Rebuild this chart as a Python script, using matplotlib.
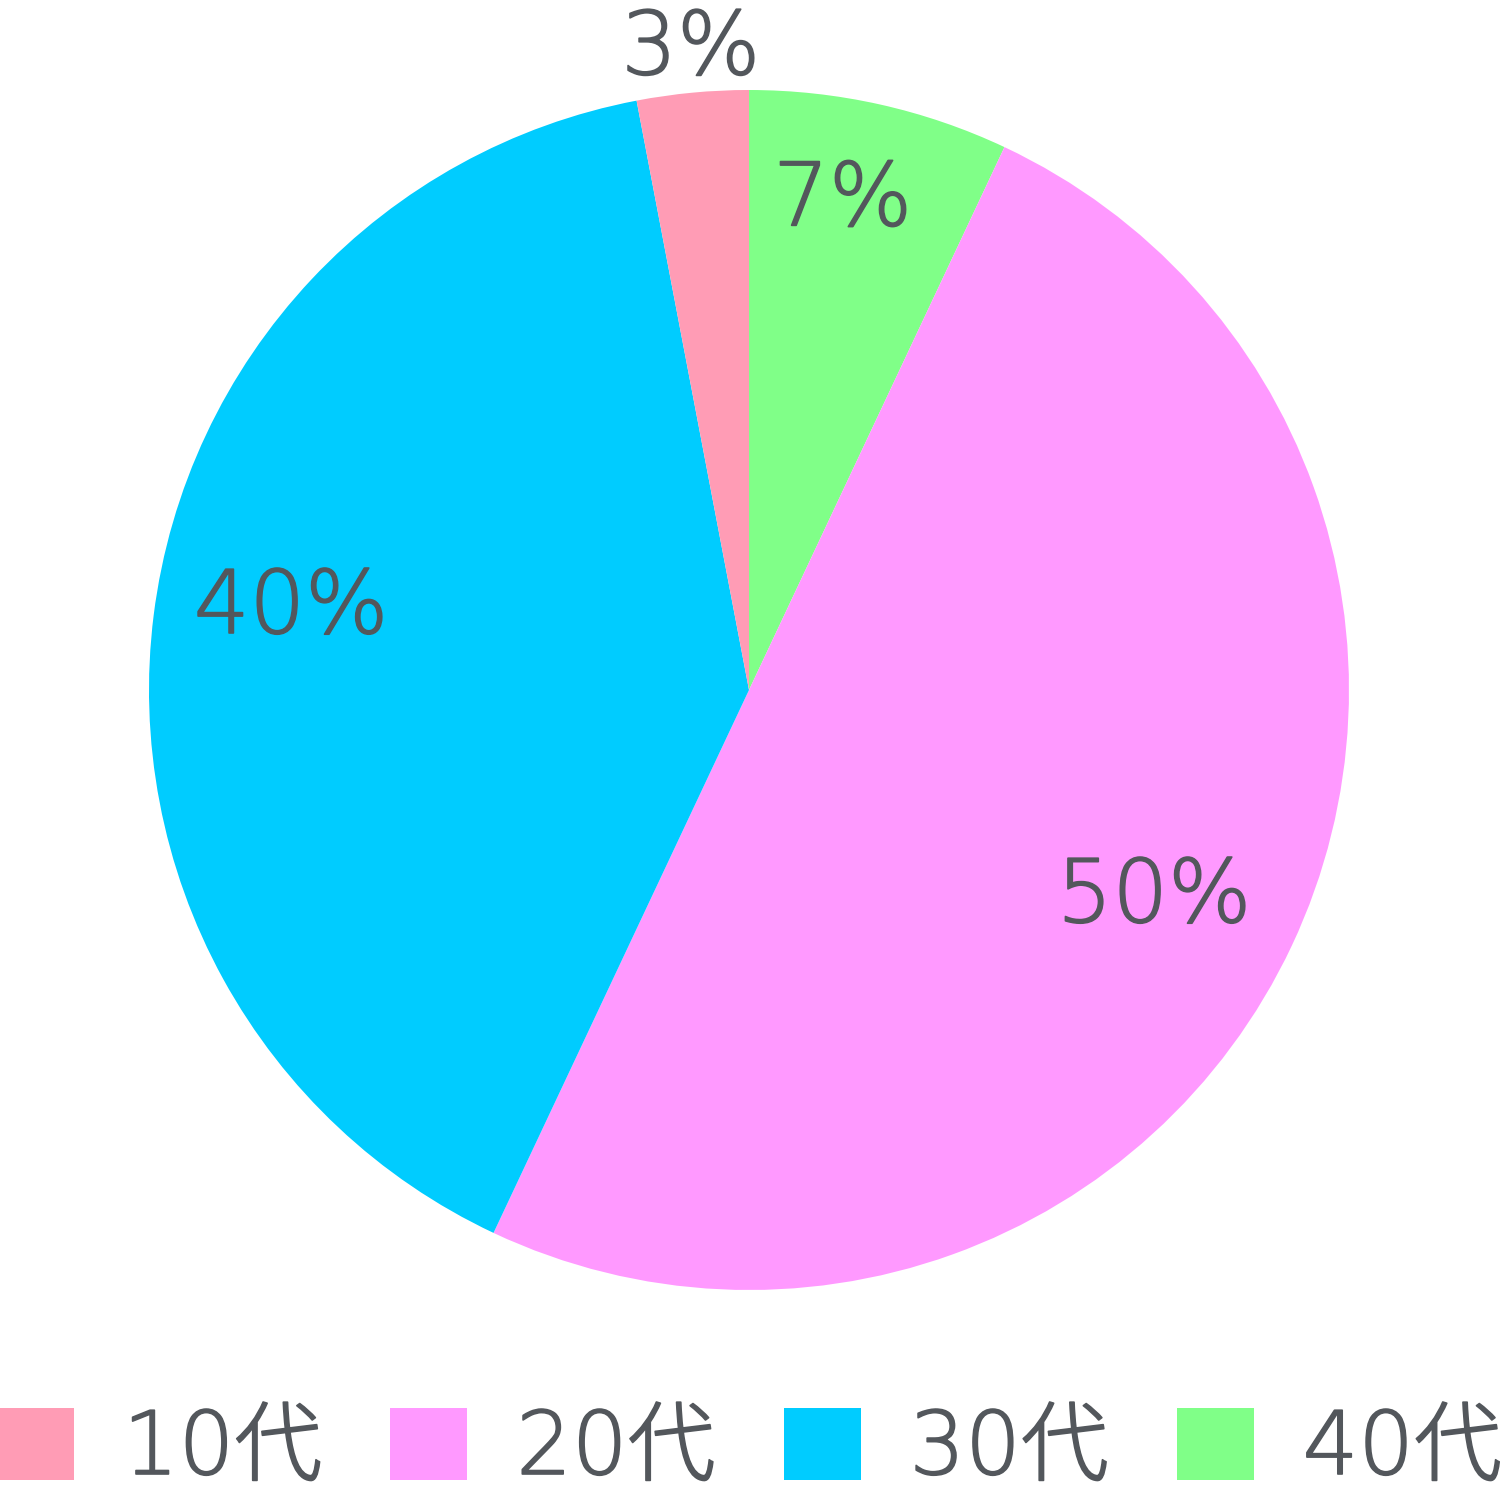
import numpy as np
import matplotlib
matplotlib.use('Agg')
import matplotlib.pyplot as plt
import matplotlib.patheffects as pe
from matplotlib.patches import Patch

plt.rcParams['font.family'] = ['DejaVu Sans', 'Noto Sans CJK JP']

# data
categories = ['10代', '20代', '30代', '40代']
shares = [3, 50, 40, 7]
colors = ['#FF9CB5', '#FF99FF', '#00CCFF', '#80FF88']
# wedges go clockwise from 12 o'clock in this order
pie_order = ['40代', '20代', '30代', '10代']
# label placement: (angle shift in degrees, fraction of radius), baseline anchored
label_pos = {'40代': (1.2, 0.79), '20代': (-4.6, 0.778),
             '30代': (0.1, 0.769), '10代': (0.0, 1.031)}

text_color = '#53575C'
thicken = [pe.withStroke(linewidth=1.2, foreground=text_color)]

fig = plt.figure(figsize=(15, 15.12), dpi=100)
ax = fig.add_axes([0, 0, 1, 1])

idx = [categories.index(c) for c in pie_order]
vals = [shares[i] for i in idx]
cols = [colors[i] for i in idx]

wedges, _ = ax.pie(vals, colors=cols, startangle=90, counterclock=False,
                   wedgeprops=dict(linewidth=0))

for w, c, v in zip(wedges, pie_order, vals):
    shift, r = label_pos[c]
    ang = np.deg2rad((w.theta1 + w.theta2) / 2 + shift)
    ax.text(r * np.cos(ang), r * np.sin(ang), '%d%%' % v,
            ha='center', va='baseline', fontsize=63,
            fontweight='light', color=text_color, path_effects=thicken)

# pixel layout: centre at (749, 690), radius 600
ax.set_aspect('auto')
ax.set_xlim(-749 / 600, 751 / 600)
ax.set_ylim(-(1512 - 690) / 600, 690 / 600)
ax.axis('off')

handles = [Patch(facecolor=c, edgecolor='none') for c in colors]
leg = fig.legend(handles, categories, loc='center left',
                 bbox_to_anchor=(-0.002, 1 - 1450 / 1512), ncol=4,
                 frameon=False, prop=dict(size=63, weight='light'),
                 labelcolor=text_color, handlelength=0.88,
                 handleheight=0.88, handletextpad=0.56,
                 columnspacing=0.78, borderpad=0, borderaxespad=0)
for t in leg.get_texts():
    t.set_path_effects(thicken)

fig.savefig('out.png', dpi=100)
